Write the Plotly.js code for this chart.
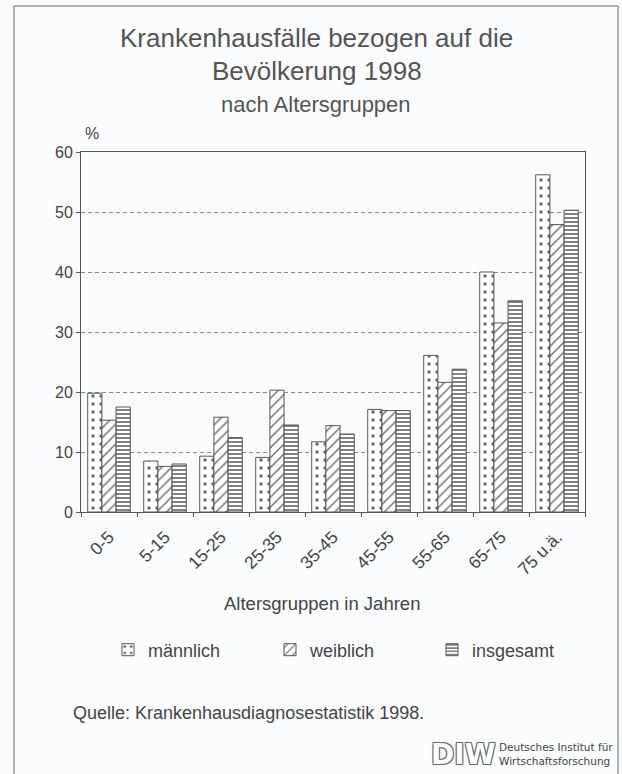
<!DOCTYPE html>
<html>
<head>
<meta charset="utf-8">
<script src="https://cdn.plot.ly/plotly-3.0.1.min.js"></script>
<style>
  html, body { margin: 0; padding: 0; background: #fafcfd; }
  #chart { width: 622px; height: 774px; }
</style>
</head>
<body>
<div id="chart"></div>
<script>
// ---- data ----
const ageGroups = ["0-5", "5-15", "15-25", "25-35", "35-45", "45-55", "55-65", "65-75", "75 u.ä."];
const maennlich = [19.8, 8.5, 9.3, 9.1, 11.7, 17.1, 26.1, 40.0, 56.2];
const weiblich  = [15.3, 7.6, 15.8, 20.3, 14.4, 16.9, 21.6, 31.5, 47.9];
const insgesamt = [17.5, 8.0, 12.4, 14.5, 13.0, 16.9, 23.8, 35.2, 50.3];
const seriesNames = ["männlich", "weiblich", "insgesamt"];
const yTicks = [0, 10, 20, 30, 40, 50, 60];

const FONT = "'Liberation Sans', Arial, sans-serif";
const TXT = "#444";
const LINE = "#555";

function barTrace(name, values, shape, size, solidity) {
  return {
    type: "bar",
    name: name,
    x: ageGroups,
    y: values,
    marker: {
      color: "#ffffff",
      line: { color: LINE, width: 1 },
      pattern: { shape: shape, fgcolor: "#6a6a6a", bgcolor: "#ffffff", size: size, solidity: solidity, fillmode: "replace" }
    },
    hoverinfo: "x+y+name"
  };
}

const data = [
  barTrace(seriesNames[0], maennlich, ".", 8, 0.15),
  barTrace(seriesNames[1], weiblich, "/", 7, 0.2),
  barTrace(seriesNames[2], insgesamt, "-", 4, 0.42)
];

// plot area: x 81..585, y 152..512
const L = 81, R = 585, T = 152, B = 512;
const W = 622, H = 774;
const px = v => (v - L) / (R - L);
const py = v => (B - v) / (B - T);

const layout = {
  width: W, height: H,
  margin: { l: L, r: W - R, t: T, b: H - B, pad: 0 },
  paper_bgcolor: "#fafcfd",
  plot_bgcolor: "#fafcfd",
  font: { family: FONT, color: TXT, size: 16 },
  barmode: "group",
  bargap: 0.24,
  bargroupgap: 0,
  showlegend: true,
  legend: {
    orientation: "h",
    x: px(108), xanchor: "left",
    y: py(650), yanchor: "middle",
    font: { size: 18, color: TXT },
    entrywidth: 117,
    bgcolor: "rgba(0,0,0,0)"
  },
  xaxis: {
    type: "category",
    tickangle: -45,
    ticks: "outside",
    tickson: "boundaries",
    ticklen: 4,
    tickcolor: LINE,
    ticklabelstandoff: 7,
    showline: true,
    mirror: true,
    linecolor: LINE,
    linewidth: 1,
    showgrid: false,
    tickfont: { size: 17.5, color: TXT },
    automargin: false
  },
  yaxis: {
    range: [0, 60],
    tickvals: yTicks,
    ticks: "outside",
    ticklen: 4,
    tickcolor: LINE,
    showline: true,
    mirror: true,
    linecolor: LINE,
    linewidth: 1,
    showgrid: true,
    gridcolor: "#8a8a8a",
    griddash: "4px,3px",
    gridwidth: 1,
    zeroline: false,
    tickfont: { size: 16, color: TXT },
    automargin: false
  },
  annotations: [
    { text: "Krankenhausfälle bezogen auf die", xref: "paper", yref: "paper", x: px(316), y: py(38), xanchor: "center", yanchor: "middle", showarrow: false, font: { size: 26, color: "#555" } },
    { text: "Bevölkerung 1998", xref: "paper", yref: "paper", x: px(317), y: py(71), xanchor: "center", yanchor: "middle", showarrow: false, font: { size: 26, color: "#555" } },
    { text: "nach Altersgruppen", xref: "paper", yref: "paper", x: px(316), y: py(104), xanchor: "center", yanchor: "middle", showarrow: false, font: { size: 22, color: "#555" } },
    { text: "%", xref: "paper", yref: "paper", x: px(92), y: py(133), xanchor: "center", yanchor: "middle", showarrow: false, font: { size: 16, color: TXT } },
    { text: "Altersgruppen in Jahren", xref: "paper", yref: "paper", x: px(322), y: py(603), xanchor: "center", yanchor: "middle", showarrow: false, font: { size: 18.5, color: TXT } },
    { text: "Quelle: Krankenhausdiagnosestatistik 1998.", xref: "paper", yref: "paper", x: px(71), y: py(713), xanchor: "left", yanchor: "middle", showarrow: false, font: { size: 18, color: TXT } },
    { text: "<b>DIW</b>", xref: "paper", yref: "paper", x: px(463), y: py(754), xanchor: "center", yanchor: "middle", showarrow: false,
      font: { size: 28, color: "#ffffff", family: "DejaVu Sans, sans-serif", shadow: "1px 1px 0 #666, -1px -1px 0 #666, 1px -1px 0 #666, -1px 1px 0 #666" } },
    { text: "Deutsches Institut für<br>Wirtschaftsforschung", xref: "paper", yref: "paper", x: px(497), y: py(754), xanchor: "left", yanchor: "middle", align: "left", showarrow: false,
      font: { size: 10.5, color: "#444", family: "DejaVu Sans, sans-serif" } }
  ],
  shapes: [
    { type: "rect", xref: "paper", yref: "paper", x0: px(14), x1: px(618), y0: py(790), y1: py(6), line: { color: "#666", width: 1 }, fillcolor: "rgba(0,0,0,0)", layer: "below" }
  ]
};

Plotly.newPlot("chart", data, layout, { displayModeBar: false, staticPlot: true });
</script>
</body>
</html>
